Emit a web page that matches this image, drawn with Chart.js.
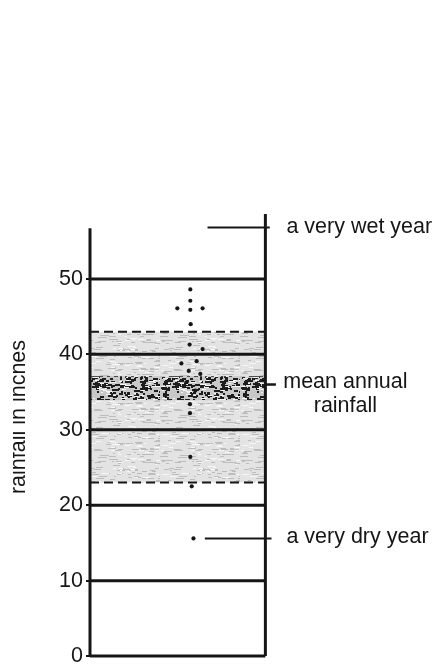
<!DOCTYPE html>
<html>
<head>
<meta charset="utf-8">
<script src="https://cdn.jsdelivr.net/npm/chart.js@4/dist/chart.umd.min.js"></script>
<style>
  html, body { margin: 0; padding: 0; background: #ffffff; }
  #wrap { width: 436px; height: 672px; position: relative; }
</style>
</head>
<body>
<div id="wrap"><canvas id="c" width="436" height="672"></canvas></div>
<script>
// ---- data ----
const tickValues = [0, 10, 20, 30, 40, 50];          // y-axis tick labels (inches)
const gridValues = [0, 10, 20, 30, 40, 50];          // horizontal rules inside the column
const normalRange = [23, 43];                         // dashed limits of the shaded "normal" band
const meanBand = [33.9, 37.1];                        // dark band around the mean
const meanRainfall = 36;                              // mean annual rainfall
const wetYear = 56.8;                                 // a very wet year
const dryYear = 15.6;                                 // a very dry year
const leftAxisTop = 56.7;
const rightAxisTop = 58.6;
// individual years: horizontal position within column (0..1) and rainfall
const yearPos  = [0.572, 0.572, 0.498, 0.572, 0.642, 0.574, 0.568, 0.642, 0.521, 0.608, 0.563, 0.629, 0.55, 0.60, 0.57, 0.57, 0.572, 0.58, 0.59];
const yearRain = [48.6, 47.1, 46.1, 45.9, 46.1, 44.0, 41.3, 40.7, 38.8, 39.1, 37.8, 37.4, 36.3, 35.2, 33.4, 32.2, 26.4, 22.5, 15.6];
const labels = {
  wet: 'a very wet year',
  mean1: 'mean annual',
  mean2: 'rainfall',
  dry: 'a very dry year',
  yTitle: 'rainfall in inches'
};

// ---- styling helpers ----
function lcg(seed) { let s = seed; return () => (s = (s * 1664525 + 1013904223) % 4294967296) / 4294967296; }
function makePattern(bg, marks, w, h, seed) {
  const cv = document.createElement('canvas');
  cv.width = w; cv.height = h;
  const g = cv.getContext('2d');
  g.fillStyle = bg; g.fillRect(0, 0, w, h);
  const r = lcg(seed);
  marks.forEach(m => {
    g.fillStyle = m.color;
    for (let i = 0; i < m.n; i++) {
      g.fillRect(Math.floor(r() * w), Math.floor(r() * h), 2 + Math.floor(r() * m.len), m.th);
    }
  });
  return g.createPattern(cv, 'repeat');
}
const lightPat = makePattern('#e3e3e3', [{color: '#bdbdbd', n: 110, len: 8, th: 1}, {color: '#f7f7f7', n: 50, len: 6, th: 1}], 80, 40, 7);
const darkPat = makePattern('#c8c8c8', [{color: '#1e1e1e', n: 260, len: 3, th: 2}, {color: '#f4f4f4', n: 90, len: 5, th: 1}], 80, 40, 11);

const ink = '#161616';
const seg = (x0, x1, y) => [{x: x0, y: y}, {x: x1, y: y}];
const vseg = (x, y0, y1) => [{x: x, y: y0}, {x: x, y: y1}];

const datasets = [];
// fills
datasets.push({ type: 'line', data: seg(0, 1, normalRange[1]), showLine: true, borderWidth: 0, pointRadius: 0,
  fill: {value: normalRange[0]}, backgroundColor: lightPat, order: 20, clip: false });
datasets.push({ type: 'line', data: seg(0, 1, meanBand[1]), showLine: true, borderWidth: 0, pointRadius: 0,
  fill: {value: meanBand[0]}, backgroundColor: darkPat, order: 19, clip: false });
// horizontal rules
gridValues.forEach(v => datasets.push({ type: 'line', data: seg(0, 1, v), showLine: true, borderColor: ink,
  borderWidth: 3, pointRadius: 0, fill: false, order: 5, clip: false }));
// dashed limits
normalRange.forEach(v => datasets.push({ type: 'line', data: seg(0, 1, v), showLine: true, borderColor: ink,
  borderWidth: 2, borderDash: [9, 5], pointRadius: 0, fill: false, order: 5, clip: false }));
// column sides
datasets.push({ type: 'line', data: vseg(0, 0, leftAxisTop), showLine: true, borderColor: ink, borderWidth: 3, pointRadius: 0, fill: false, order: 4, clip: false });
datasets.push({ type: 'line', data: vseg(1, 0, rightAxisTop), showLine: true, borderColor: ink, borderWidth: 3, pointRadius: 0, fill: false, order: 4, clip: false });
// leader lines
datasets.push({ type: 'line', data: seg(0.67, 1.025, wetYear), showLine: true, borderColor: ink, borderWidth: 2, pointRadius: 0, fill: false, order: 4, clip: false });
datasets.push({ type: 'line', data: seg(0.655, 1.035, dryYear), showLine: true, borderColor: ink, borderWidth: 2, pointRadius: 0, fill: false, order: 4, clip: false });
datasets.push({ type: 'line', data: seg(1, 1.06, meanRainfall), showLine: true, borderColor: ink, borderWidth: 2.5, pointRadius: 0, fill: false, order: 4, clip: false });
// individual years
datasets.push({ type: 'scatter', data: yearPos.map((x, i) => ({x: x, y: yearRain[i]})), showLine: false,
  pointRadius: 2.1, pointBackgroundColor: ink, pointBorderWidth: 0, order: 1, clip: false });

const textPlugin = {
  id: 'texts',
  afterDraw(chart) {
    const c = chart.ctx, xs = chart.scales.x, ys = chart.scales.y;
    const font = '21.5px "Liberation Sans", Arial, sans-serif';
    c.save();
    c.fillStyle = ink;
    c.font = font;
    c.textBaseline = 'middle';
    c.textAlign = 'left';
    const lx = xs.getPixelForValue(1) + 21;
    c.fillText(labels.wet, lx, ys.getPixelForValue(wetYear) - 1);
    c.fillText(labels.dry, lx, ys.getPixelForValue(dryYear) - 1);
    c.textAlign = 'center';
    const mx = xs.getPixelForValue(1) + 80;
    const my = ys.getPixelForValue(meanRainfall);
    c.fillText(labels.mean1, mx, my - 2);
    c.fillText(labels.mean2, mx, my + 22);
    c.restore();
    // y-axis title, rotated, trimmed at the left edge as in the scan
    c.save();
    c.beginPath(); c.rect(13, 0, 40, chart.height); c.clip();
    c.translate(25, 417);
    c.rotate(-Math.PI / 2);
    c.fillStyle = ink;
    c.font = '21.5px "Liberation Sans", Arial, sans-serif';
    c.textAlign = 'center';
    c.textBaseline = 'alphabetic';
    c.fillText(labels.yTitle, 0, 0);
    c.restore();
  }
};

new Chart(document.getElementById('c'), {
  type: 'scatter',
  data: { datasets: datasets },
  plugins: [textPlugin],
  options: {
    responsive: false,
    animation: false,
    events: [],
    layout: { padding: { top: 211, bottom: 10, left: 0, right: 2.8 } },
    plugins: { legend: { display: false }, tooltip: { enabled: false }, title: { display: false } },
    scales: {
      x: { type: 'linear', min: 0, max: 1.95, display: false },
      y: {
        type: 'linear', min: 0, max: 59,
        afterBuildTicks: s => { s.ticks = tickValues.map(v => ({value: v})); },
        afterFit: s => { s.width = 90; },
        border: { display: false },
        grid: { display: true, drawOnChartArea: false, drawTicks: true, tickLength: 4, color: ink, lineWidth: 2 },
        ticks: { color: ink, padding: 3, font: { family: '"Liberation Sans", Arial, sans-serif', size: 21.5 } }
      }
    }
  }
});
</script>
</body>
</html>
